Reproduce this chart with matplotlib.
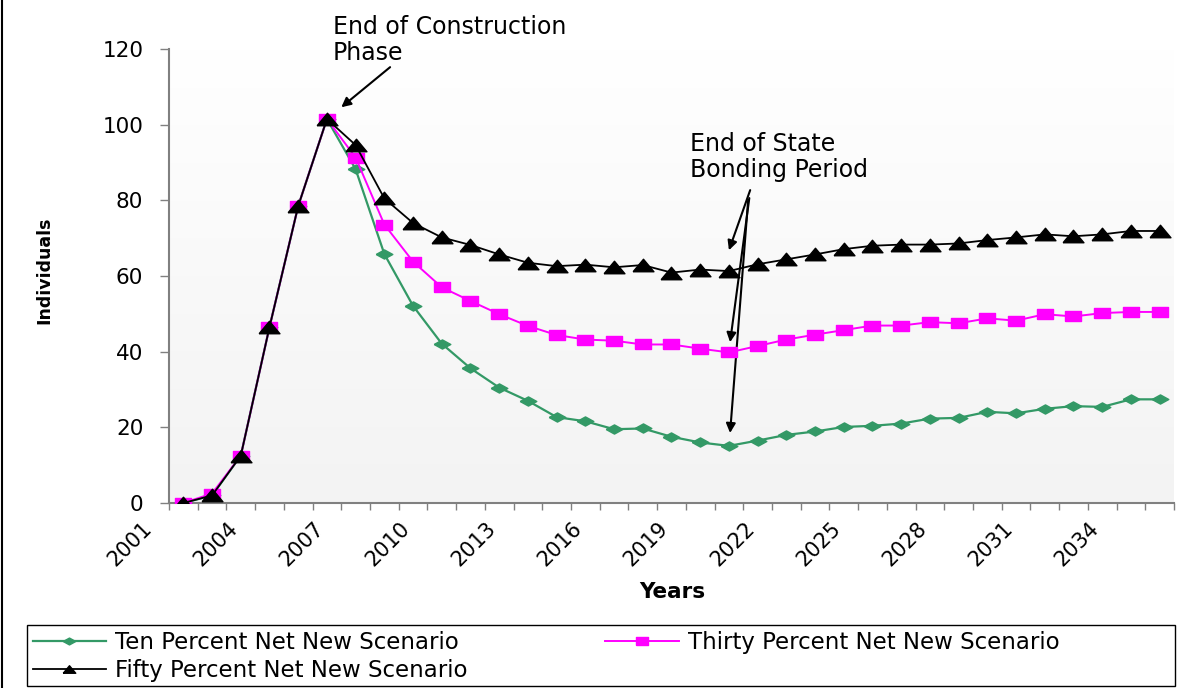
import numpy as np
import matplotlib
matplotlib.use("Agg")
import matplotlib.pyplot as plt
import matplotlib.transforms as mtransforms
from matplotlib.colors import LinearSegmentedColormap
from matplotlib.lines import Line2D
from matplotlib.patches import Rectangle

# DATOS
years = list(range(2001, 2036))

ten_pct = [0, 2, 12.5, 46.5, 78.5, 101.5, 88.2, 65.8, 52.1, 42.1,
           35.6, 30.5, 27.0, 22.7, 21.6, 19.5, 19.7, 17.5, 16.0, 15.1,
           16.5, 18.0, 18.9, 20.1, 20.4, 21.0, 22.3, 22.5, 24.1, 23.7,
           24.9, 25.6, 25.4, 27.4, 27.4]

thirty_pct = [0, 2.5, 12.5, 46.5, 78.5, 101.5, 91.3, 73.6, 63.8, 57.0,
              53.4, 49.9, 46.8, 44.4, 43.2, 42.9, 41.9, 41.9, 40.8, 39.8,
              41.5, 43.2, 44.5, 45.7, 46.9, 46.9, 47.8, 47.5, 48.8, 48.2,
              49.9, 49.3, 50.2, 50.5, 50.5]

fifty_pct = [0, 2, 12.5, 46.5, 78.5, 101.5, 94.6, 80.5, 74.0, 70.2,
             68.2, 65.7, 63.5, 62.6, 63.0, 62.3, 62.9, 60.9, 61.7, 61.3,
             63.1, 64.4, 65.7, 67.1, 68.0, 68.3, 68.3, 68.6, 69.5, 70.2,
             71.0, 70.5, 71.0, 71.9, 71.9]

label_years = list(range(2001, 2035, 3))
y_ticks = [0, 20, 40, 60, 80, 100, 120]

series_names = ["Ten Percent Net New Scenario",
                "Thirty Percent Net New Scenario",
                "Fifty Percent Net New Scenario"]

# marcadores "achatados"
diamond = [(-1, 0), (0, 0.55), (1, 0), (0, -0.55), (-1, 0)]
rect = [(-1, -0.65), (1, -0.65), (1, 0.65), (-1, 0.65), (-1, -0.65)]
tri = [(-1, -0.6), (1, -0.6), (0, 0.6), (-1, -0.6)]

GRIS = "#808080"
W, H = 1191, 688

fig = plt.figure(figsize=(W/100, H/100), dpi=100)
ax = fig.add_axes([169/W, 1 - 503/H, (1174 - 169)/W, (503 - 49)/H])

# fondo degradado del area de trazado
cmap = LinearSegmentedColormap.from_list("fondo", ["#f3f3f3", "#ffffff"])
ax.imshow(np.linspace(0, 1, 256).reshape(-1, 1), cmap=cmap, aspect="auto",
          extent=[0, 1, 0, 1], transform=ax.transAxes, origin="lower", zorder=0)

l_ten, = ax.plot(years, ten_pct, color="#339966", lw=1.6, marker=diamond,
                 ms=12, mec="#339966", mfc="#339966", zorder=3)
l_thirty, = ax.plot(years, thirty_pct, color="#ff00ff", lw=1.4, marker=rect,
                    ms=11, mec="#ff00ff", mfc="#ff00ff", zorder=4)
l_fifty, = ax.plot(years, fifty_pct, color="black", lw=1.3, marker=tri,
                   ms=15, mec="black", mfc="black", zorder=5)

ax.set_xlim(2000.5, 2035.5)
ax.set_ylim(0, 120)

# ejes
for s in ["top", "right"]:
    ax.spines[s].set_visible(False)
for s in ["left", "bottom"]:
    ax.spines[s].set_color(GRIS)
    ax.spines[s].set_linewidth(1.5)

ax.set_yticks(y_ticks)
ax.tick_params(axis="y", direction="out", length=6.5, width=1, color=GRIS,
               pad=12, labelsize=15.5)

# marcas entre categorias, etiquetas cada 3 anios
ax.set_xticks(np.arange(2000.5, 2036, 1.0))
ax.set_xticklabels([])
ax.tick_params(axis="x", which="major", direction="out", length=5, width=1, color=GRIS)
ax.set_xticks(label_years, minor=True)
ax.set_xticklabels([str(y) for y in label_years], minor=True)
ax.tick_params(axis="x", which="minor", length=0, pad=0, labelsize=15)
desplazamiento = mtransforms.ScaledTranslation(-42/100, -15/100, fig.dpi_scale_trans)
for lab in ax.get_xticklabels(minor=True):
    lab.set_rotation(45)
    lab.set_rotation_mode("anchor")
    lab.set_ha("right")
    lab.set_va("top")
    lab.set_transform(lab.get_transform() + desplazamiento)

ax.set_xlabel("Years", fontsize=15.5, fontweight="bold", labelpad=0)
ax.xaxis.set_label_coords((672 - 169)/(1174 - 169), -(582 - 503)/(503 - 49))
ax.set_ylabel("Individuals", fontsize=12.5, fontweight="bold")
ax.yaxis.set_label_coords(-(169 - 53)/(1174 - 169), (503 - 270)/(503 - 49))

# anotaciones
flecha = dict(arrowstyle="-|>", color="black", lw=1.5, mutation_scale=14,
              shrinkA=0, shrinkB=0)
fig.text(333/W, 1 - 15/H, "End of Construction\nPhase", fontsize=17,
         ha="left", va="top", linespacing=1.1)
ax.annotate("", xy=(2006.5, 104.6), xytext=(2008.2, 115.2),
            arrowprops=flecha, annotation_clip=False)

fig.text(690/W, 1 - 132/H, "End of State\nBonding Period", fontsize=17,
         ha="left", va="top", linespacing=1.1)
ax.annotate("", xy=(2020.0, 66.8), xytext=(2020.74, 82.7), arrowprops=flecha)
ax.annotate("", xy=(2020.04, 42.5), xytext=(2020.71, 80.6), arrowprops=flecha)
ax.annotate("", xy=(2020.04, 18.5), xytext=(2020.67, 80.1), arrowprops=flecha)

# leyenda (marco dibujado aparte a todo el ancho)
leg = fig.legend([l_ten, l_fifty, l_thirty],
                 [series_names[0], series_names[2], series_names[1]],
                 ncol=2, loc="upper left", bbox_to_anchor=(27/W, 1 - 625/H),
                 frameon=False, fontsize=16.5,
                 handlelength=3.2, handletextpad=0.4, columnspacing=6.0,
                 borderpad=0.25, labelspacing=0.25, borderaxespad=0)
for h in leg.legend_handles:
    h.set_markersize(9)
fig.add_artist(Rectangle((27/W, 1 - 686/H), (1175 - 27)/W, (686 - 625)/H,
                         transform=fig.transFigure, fill=False,
                         edgecolor="black", lw=1))

# borde izquierdo del grafico
fig.add_artist(Line2D([2/W, 2/W], [0, 1], transform=fig.transFigure,
                      color="black", lw=1.5))

fig.savefig("out.png", dpi=100)
